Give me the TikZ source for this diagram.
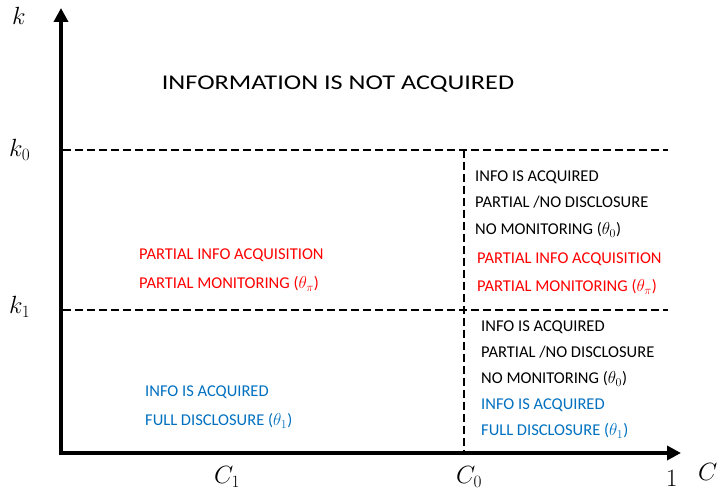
\documentclass[tikz,border=0pt]{standalone}
\usepackage{fontspec}
\setmainfont{Carlito}
\usetikzlibrary{arrows.meta}
\definecolor{tred}{RGB}{255,0,0}
\definecolor{tblue}{RGB}{0,112,192}
\tikzset{
  axisline/.style={line width=4.2pt,-{Triangle[length=14pt,width=14pt]}},
  divline/.style={line width=2.6pt,dash pattern=on 8pt off 4pt},
  txt/.style={inner sep=0pt,anchor=base west,font=\fontsize{16.5}{20}\selectfont},
  mlabel/.style={inner sep=0pt,anchor=base west,font=\fontsize{24}{28}\selectfont},
}
\begin{document}
\begin{tikzpicture}[x=1pt,y=-1pt]
\useasboundingbox (0,0) rectangle (718,502);
% axes
\coordinate (O) at (61,453);
\coordinate (ytip) at (61,8);
\coordinate (xtip) at (681,453);
\draw[axisline] (61,455.1) -- (ytip);
\draw[axisline] (58.9,453) -- (xtip);
% dashed lines
\coordinate (k0a) at (63,150);
\coordinate (k0b) at (668,150);
\coordinate (k1a) at (63,310);
\coordinate (k1b) at (668,310);
\coordinate (c0a) at (464,150);
\coordinate (c0b) at (464,451);
\draw[divline] (k0a) -- (k0b);
\draw[divline] (k1a) -- (k1b);
\draw[divline] (c0a) -- (c0b);
% axis labels
\node[mlabel,font=\fontsize{28}{32}\selectfont] (klab) at (12,25) {$k$};
\node[mlabel] (k0lab) at (9,157) {$k_0$};
\node[mlabel] (k1lab) at (9,314) {$k_1$};
\node[mlabel] (c1lab) at (214,484) {$C_1$};
\node[mlabel] (c0lab) at (456,484) {$C_0$};
\node[mlabel] (onelab) at (666,487) {$1$};
\node[mlabel] (clab) at (698,481) {$C$};
% title
\node[inner sep=0pt,anchor=base,font=\fontsize{21}{25}\selectfont,xscale=1.25] (title) at (338,90) {INFORMATION IS NOT ACQUIRED};
% left region
\node[txt,text=tred] (lr1) at (139,260) {PARTIAL INFO ACQUISITION};
\node[txt,text=tred] (lr2) at (139,289) {PARTIAL MONITORING ($\theta_\pi$)};
\node[txt,text=tblue] (lb1) at (145,397) {INFO IS ACQUIRED};
\node[txt,text=tblue] (lb2) at (145,426) {FULL DISCLOSURE ($\theta_1$)};
% right upper
\node[txt] (ru1) at (475,182) {INFO IS ACQUIRED};
\node[txt] (ru2) at (475,208) {PARTIAL /NO DISCLOSURE};
\node[txt] (ru3) at (475,235) {NO MONITORING ($\theta_0$)};
\node[txt,text=tred] (ru4) at (477,264) {PARTIAL INFO ACQUISITION};
\node[txt,text=tred] (ru5) at (477,292) {PARTIAL MONITORING ($\theta_\pi$)};
% right lower
\node[txt] (rl1) at (481,332) {INFO IS ACQUIRED};
\node[txt] (rl2) at (481,358) {PARTIAL /NO DISCLOSURE};
\node[txt] (rl3) at (481,384) {NO MONITORING ($\theta_0$)};
\node[txt,text=tblue] (rl4) at (481,410) {INFO IS ACQUIRED};
\node[txt,text=tblue] (rl5) at (481,436) {FULL DISCLOSURE ($\theta_1$)};
\end{tikzpicture}
\end{document}
